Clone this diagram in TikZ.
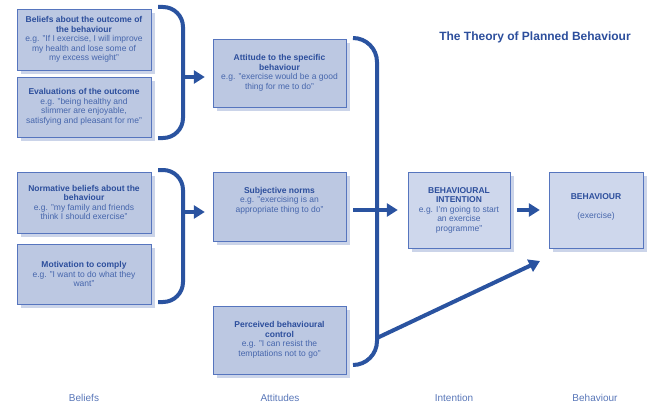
\documentclass[tikz,border=0pt]{standalone}
\usepackage{fontspec}
\setmainfont{Liberation Sans}
\usepackage{tikz}
\usetikzlibrary{arrows.meta}
\usetikzlibrary{shadows}
\usetikzlibrary{calc}

\definecolor{boxfill}{RGB}{188,200,226}
\definecolor{boxlight}{RGB}{206,215,236}
\definecolor{boxline}{RGB}{86,117,190}
\definecolor{shadowc}{RGB}{203,212,233}
\definecolor{headc}{RGB}{44,78,156}
\definecolor{bodyc}{RGB}{70,102,172}
\definecolor{navy}{RGB}{42,83,160}
\definecolor{labc}{RGB}{88,118,184}

\newcommand{\hd}[1]{{\bfseries\color{headc}#1}}

\begin{document}
\begin{tikzpicture}[x=1pt,y=-1pt]
      \tikzstyle{tpbbox}=[draw=boxline,fill=boxfill,text=bodyc,align=center,inner sep=2pt,
        font=\fontsize{8.5}{9.5}\selectfont,minimum width=134pt,minimum height=61pt,
        drop shadow={shadow xshift=4pt,shadow yshift=-4pt,fill=shadowc,opacity=1}]
      \tikzstyle{brace}=[draw=navy,line width=4pt,rounded corners=20pt]
      \tikzstyle{bigarrow}=[draw=navy,line width=4pt,-{Triangle[length=11pt,width=13pt]}]
      \tikzstyle{colname}=[text=labc,font=\fontsize{10}{12}\selectfont]

      \useasboundingbox (0,0) rectangle (654,412);

      % beliefs
      \node [tpbbox] (outcome) at (84,39.5)
        {\hd{Beliefs about the outcome of}\\\hd{the behaviour}\\e.g. "If I exercise, I will improve\\my health and lose some of\\my excess weight"};
      \node [tpbbox,minimum height=60pt] (evaluate) at (84,107)
        {\hd{Evaluations of the outcome}\\e.g. "being healthy and\\slimmer are enjoyable,\\satisfying and pleasant for me"};
      \node [tpbbox] (normative) at (84,202.5)
        {\hd{Normative beliefs about the}\\\hd{behaviour}\\e.g. "my family and friends\\think I should exercise"};
      \node [tpbbox,minimum height=60pt] (motivate) at (84,274)
        {\hd{Motivation to comply}\\e.g. "I want to do what they\\want"};

      % attitudes
      \node [tpbbox,minimum width=133pt,minimum height=68pt] (attitude) at (279.5,73)
        {\hd{Attitude to the specific}\\\hd{behaviour}\\e.g. "exercise would be a good\\thing for me to do"};
      \node [tpbbox,minimum width=133pt,minimum height=69pt] (norms) at (279.5,206.5)
        {\hd{Subjective norms}\\e.g. "exercising is an\\appropriate thing to do"\\[4pt]};
      \node [tpbbox,minimum width=133pt,minimum height=68pt] (control) at (279.5,340)
        {\hd{Perceived behavioural}\\\hd{control}\\e.g. "I can resist the\\temptations not to go"};

      % intention and behaviour
      \node [tpbbox,fill=boxlight,minimum width=102pt,minimum height=76pt] (intention) at (459,210)
        {\hd{BEHAVIOURAL}\\\hd{INTENTION}\\e.g. I'm going to start\\an exercise\\programme"};
      \node [tpbbox,fill=boxlight,minimum width=94pt,minimum height=76pt] (behaviour) at (596,210)
        {\hd{BEHAVIOUR}\\[9.5pt](exercise)\\[-1.5pt]};

      % braces
      \draw [brace] (158,7) -- (183,7) -- (183,138) -- (158,138);
      \draw [brace] (158,170) -- (183,170) -- (183,302) -- (158,302);
      \draw [brace,rounded corners=24pt] (353,38) -- (377,38) -- (377,365) -- (353,365);

      \coordinate (brace1) at (183,77);
      \coordinate (brace2) at (183,212);
      \coordinate (pbc) at (377,338);
      \coordinate (pbcend) at (540,261);

      \draw [bigarrow,shorten >=8pt] (brace1) -- (brace1 -| attitude.west);
      \draw [bigarrow,shorten >=8pt] (brace2) -- (brace2 -| norms.west);
      \draw [bigarrow,shorten <=7pt,shorten >=10pt] (norms.east |- intention.west) -- (intention.west);
      \draw [bigarrow,shorten <=7pt,shorten >=9pt] (intention.east) -- (behaviour.west);
      \draw [bigarrow] (pbc) -- (pbcend);

      % titles
      \node [text=headc,font=\fontsize{12}{14}\selectfont\bfseries] (title) at (535,37) {The Theory of Planned Behaviour};
      \node [colname] (lbeliefs) at (84,398) {Beliefs};
      \node [colname] (lattitudes) at (280,398) {Attitudes};
      \node [colname] (lintention) at (454,398) {Intention};
      \node [colname] (lbehaviour) at (595,398) {Behaviour};
\end{tikzpicture}
\end{document}
